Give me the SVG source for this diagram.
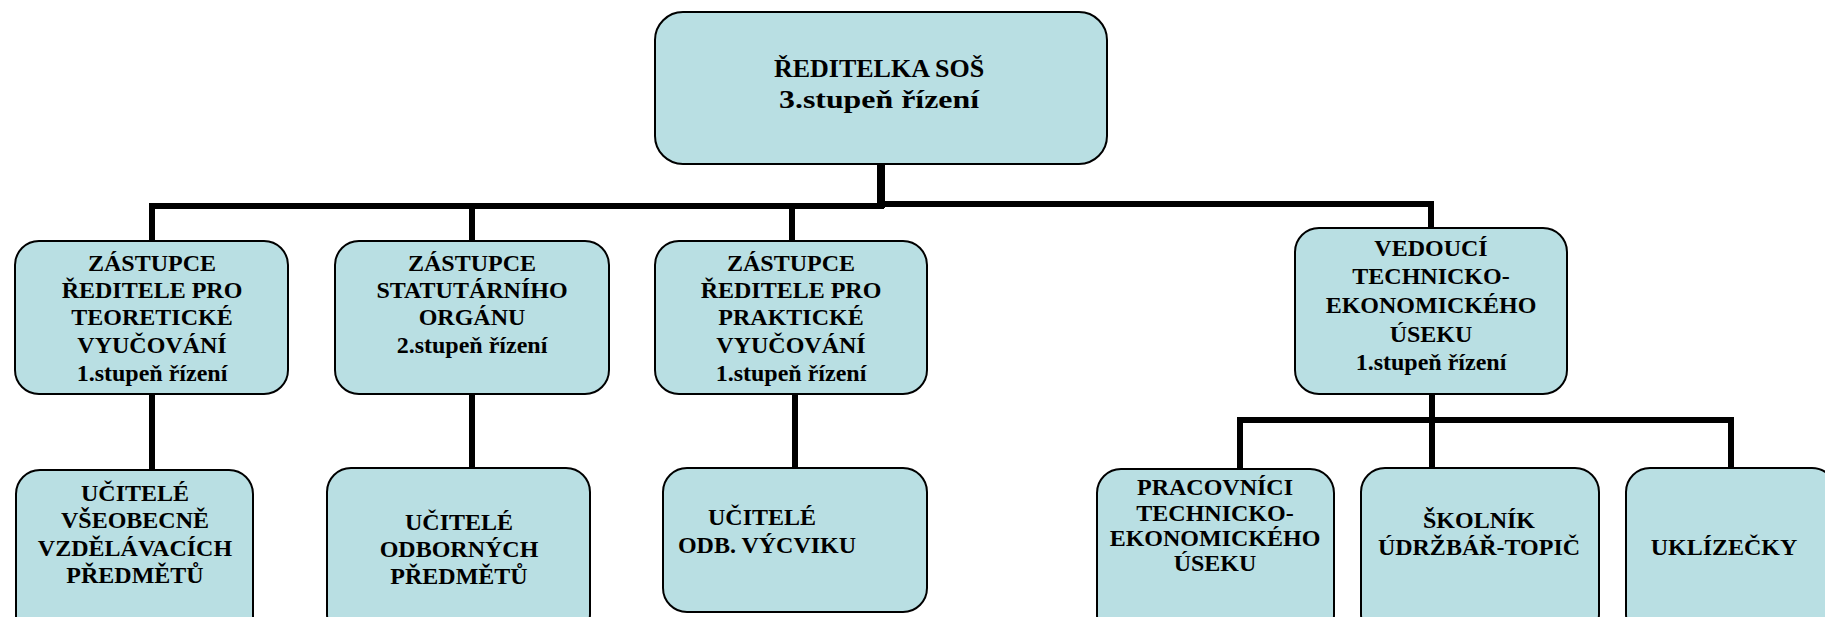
<svg xmlns="http://www.w3.org/2000/svg" width="1825" height="617" viewBox="0 0 1825 617">
<style>
.box{fill:#B9DFE3;stroke:#000;stroke-width:2}
.t{font-family:"Liberation Serif","Times New Roman",serif;font-weight:bold;font-size:24px;fill:#000;text-anchor:middle}
.big{font-size:26px}
.ln{stroke:#000;stroke-width:6;fill:none;stroke-linecap:square}
</style>
<rect width="1825" height="617" fill="#fff"/>
<g id="connectors">
<line class="ln" x1="881" y1="164" x2="881" y2="204" style="stroke-width:8"/>
<line class="ln" x1="152" y1="206" x2="881" y2="206"/>
<line class="ln" x1="881" y1="204" x2="1431" y2="204"/>
<line class="ln" x1="152" y1="206" x2="152" y2="240"/>
<line class="ln" x1="472" y1="206" x2="472" y2="240"/>
<line class="ln" x1="792" y1="206" x2="792" y2="240"/>
<line class="ln" x1="1431" y1="204" x2="1431" y2="227"/>
<line class="ln" x1="152" y1="395" x2="152" y2="469"/>
<line class="ln" x1="472" y1="395" x2="472" y2="467"/>
<line class="ln" x1="795" y1="395" x2="795" y2="467"/>
<line class="ln" x1="1432" y1="395" x2="1432" y2="467"/>
<line class="ln" x1="1240" y1="420" x2="1731" y2="420"/>
<line class="ln" x1="1240" y1="420" x2="1240" y2="468"/>
<line class="ln" x1="1731" y1="420" x2="1731" y2="467"/>
</g>
<g id="n-reditelka">
<rect class="box" x="655" y="12" width="452" height="152" rx="28"/>
<text class="t big" x="879" y="77">ŘEDITELKA SOŠ</text>
<text class="t big" x="879" y="108" textLength="200" lengthAdjust="spacingAndGlyphs">3.stupeň řízení</text>
</g>
<g id="n-zast-teor">
<rect class="box" x="15" y="241" width="273" height="153" rx="24"/>
<text class="t" x="152" y="271">ZÁSTUPCE</text>
<text class="t" x="152" y="298">ŘEDITELE PRO</text>
<text class="t" x="152" y="325">TEORETICKÉ</text>
<text class="t" x="152" y="353">VYUČOVÁNÍ</text>
<text class="t" x="152" y="381">1.stupeň řízení</text>
</g>
<g id="n-zast-stat">
<rect class="box" x="335" y="241" width="274" height="153" rx="24"/>
<text class="t" x="472" y="271">ZÁSTUPCE</text>
<text class="t" x="472" y="298">STATUTÁRNÍHO</text>
<text class="t" x="472" y="325">ORGÁNU</text>
<text class="t" x="472" y="353">2.stupeň řízení</text>
</g>
<g id="n-zast-prakt">
<rect class="box" x="655" y="241" width="272" height="153" rx="24"/>
<text class="t" x="791" y="271">ZÁSTUPCE</text>
<text class="t" x="791" y="298">ŘEDITELE PRO</text>
<text class="t" x="791" y="325">PRAKTICKÉ</text>
<text class="t" x="791" y="353">VYUČOVÁNÍ</text>
<text class="t" x="791" y="381">1.stupeň řízení</text>
</g>
<g id="n-vedouci">
<rect class="box" x="1295" y="228" width="272" height="166" rx="24"/>
<text class="t" x="1431" y="256">VEDOUCÍ</text>
<text class="t" x="1431" y="284">TECHNICKO-</text>
<text class="t" x="1431" y="313">EKONOMICKÉHO</text>
<text class="t" x="1431" y="342">ÚSEKU</text>
<text class="t" x="1431" y="370">1.stupeň řízení</text>
</g>
<g id="n-ucitele-vseob">
<rect class="box" x="16" y="470" width="237" height="170" rx="24"/>
<text class="t" x="135" y="501">UČITELÉ</text>
<text class="t" x="135" y="528">VŠEOBECNĚ</text>
<text class="t" x="135" y="556">VZDĚLÁVACÍCH</text>
<text class="t" x="135" y="583">PŘEDMĚTŮ</text>
</g>
<g id="n-ucitele-odb">
<rect class="box" x="327" y="468" width="263" height="170" rx="24"/>
<text class="t" x="459" y="530">UČITELÉ</text>
<text class="t" x="459" y="557">ODBORNÝCH</text>
<text class="t" x="459" y="584">PŘEDMĚTŮ</text>
</g>
<g id="n-ucitele-vycvik">
<rect class="box" x="663" y="468" width="264" height="144" rx="24"/>
<text class="t" x="762" y="525">UČITELÉ</text>
<text class="t" x="767" y="553">ODB. VÝCVIKU</text>
</g>
<g id="n-pracovnici">
<rect class="box" x="1097" y="469" width="237" height="170" rx="24"/>
<text class="t" x="1215" y="495">PRACOVNÍCI</text>
<text class="t" x="1215" y="521">TECHNICKO-</text>
<text class="t" x="1215" y="546">EKONOMICKÉHO</text>
<text class="t" x="1215" y="571">ÚSEKU</text>
</g>
<g id="n-skolnik">
<rect class="box" x="1361" y="468" width="238" height="170" rx="24"/>
<text class="t" x="1479" y="528">ŠKOLNÍK</text>
<text class="t" x="1479" y="555">ÚDRŽBÁŘ-TOPIČ</text>
</g>
<g id="n-uklizecky">
<rect class="box" x="1626" y="468" width="210" height="170" rx="24"/>
<text class="t" x="1724" y="555">UKLÍZEČKY</text>
</g>
</svg>
